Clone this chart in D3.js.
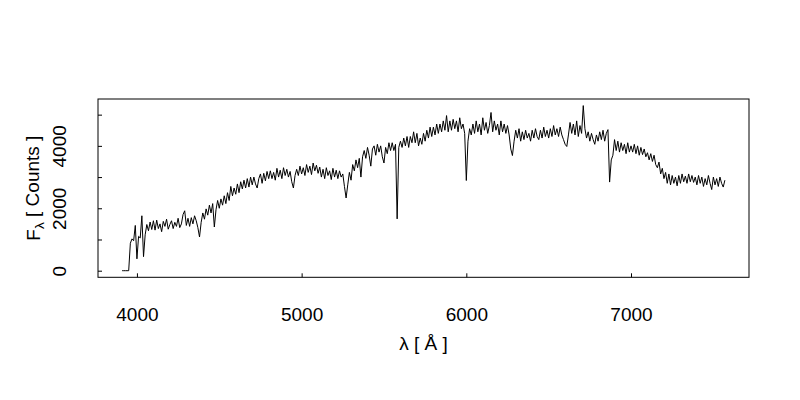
<!DOCTYPE html>
<html>
<head>
<meta charset="utf-8">
<script src="https://cdn.jsdelivr.net/npm/d3@7"></script>
<style>
  html, body { margin: 0; padding: 0; background: #ffffff; }
  svg { display: block; font-family: "Liberation Sans", Arial, Helvetica, sans-serif; }
</style>
</head>
<body>
<svg id="chart" width="800" height="400"></svg>
<script>
// ---------------- data ----------------
const wavelength = [
  3910,3920,3930,3940,3950,3960,3970,3980,3990,4000,
  4010,4020,4030,4040,4050,4060,4070,4080,4090,4100,
  4110,4120,4130,4140,4150,4160,4170,4180,4190,4200,
  4210,4220,4230,4240,4250,4260,4270,4280,4290,4300,
  4310,4320,4330,4340,4350,4360,4370,4380,4390,4400,
  4410,4420,4430,4440,4450,4460,4470,4480,4490,4500,
  4510,4520,4530,4540,4550,4560,4570,4580,4590,4600,
  4610,4620,4630,4640,4650,4660,4670,4680,4690,4700,
  4710,4720,4730,4740,4750,4760,4770,4780,4790,4800,
  4810,4820,4830,4840,4850,4860,4870,4880,4890,4900,
  4910,4920,4930,4940,4950,4960,4970,4980,4990,5000,
  5010,5020,5030,5040,5050,5060,5070,5080,5090,5100,
  5110,5120,5130,5140,5150,5160,5170,5180,5190,5200,
  5210,5220,5230,5240,5250,5260,5270,5280,5290,5300,
  5310,5320,5330,5340,5350,5360,5370,5380,5390,5400,
  5410,5420,5430,5440,5450,5460,5470,5480,5490,5500,
  5510,5520,5530,5540,5550,5560,5570,5580,5590,5600,
  5610,5620,5630,5640,5650,5660,5670,5680,5690,5700,
  5710,5720,5730,5740,5750,5760,5770,5780,5790,5800,
  5810,5820,5830,5840,5850,5860,5870,5880,5890,5900,
  5910,5920,5930,5940,5950,5960,5970,5980,5990,6000,
  6010,6020,6030,6040,6050,6060,6070,6080,6090,6100,
  6110,6120,6130,6140,6150,6160,6170,6180,6190,6200,
  6210,6220,6230,6240,6250,6260,6270,6280,6290,6300,
  6310,6320,6330,6340,6350,6360,6370,6380,6390,6400,
  6410,6420,6430,6440,6450,6460,6470,6480,6490,6500,
  6510,6520,6530,6540,6550,6560,6570,6580,6590,6600,
  6610,6620,6630,6640,6650,6660,6670,6680,6690,6700,
  6710,6720,6730,6740,6750,6760,6770,6780,6790,6800,
  6810,6820,6830,6840,6850,6860,6870,6880,6890,6900,
  6910,6920,6930,6940,6950,6960,6970,6980,6990,7000,
  7010,7020,7030,7040,7050,7060,7070,7080,7090,7100,
  7110,7120,7130,7140,7150,7160,7170,7180,7190,7200,
  7210,7220,7230,7240,7250,7260,7270,7280,7290,7300,
  7310,7320,7330,7340,7350,7360,7370,7380,7390,7400,
  7410,7420,7430,7440,7450,7460,7470,7480,7490,7500,
  7510,7520,7530,7540,7550,7560,7570
];

const flux = [
  0,0,0,0,0,880,1020,960,1450,380,
  1100,1050,1760,450,1150,1480,1280,1560,1320,1600,
  1300,1620,1350,1500,1250,1580,1420,1650,1330,1480,
  1600,1350,1550,1420,1680,1380,1500,1800,1920,1450,
  1680,1420,1700,1500,1760,1600,1380,1080,1550,1850,
  1650,1980,1780,2100,1850,2150,1400,1950,2250,2000,
  2300,2100,2400,2150,2500,2250,2700,2400,2650,2450,
  2780,2500,2850,2620,2900,2650,2950,2680,3000,2750,
  3000,2780,2650,2950,3100,2800,3120,2880,3180,2950,
  3200,2950,3150,2900,3280,3000,3220,2950,3300,3050,
  3250,3000,3180,2850,2650,3050,3250,3050,3350,3100,
  3300,3050,3400,3150,3350,3080,3450,3200,3380,3120,
  3320,3000,3250,2950,3300,3050,3200,2920,3280,3000,
  3220,2950,3200,3000,3100,2700,2330,2750,3150,2900,
  3400,3200,3550,3300,3600,3000,3650,3850,3600,3950,
  3700,3350,3900,4000,3700,4050,3800,4000,3650,3450,
  3950,3750,4100,3850,4100,3850,4050,1660,3950,4150,
  3950,4250,4000,4300,3950,4300,4100,4450,4100,4400,
  4000,4250,4050,4400,4150,4500,4250,4600,4300,4600,
  4350,4700,4400,4700,4450,4800,4500,4970,4450,4800,
  4500,4850,4550,4800,4450,4900,4550,4700,4400,2890,
  4150,4550,4350,4700,4400,4800,4450,4700,4350,4900,
  4500,4750,4400,4650,5070,4450,4800,4500,4700,4350,
  4800,4450,4700,4400,4650,4350,3900,3690,4150,4500,
  4250,4550,4150,4450,4200,4500,4250,4400,4150,4500,
  4250,4550,4300,4200,4500,4250,4600,4300,4500,4250,
  4550,4300,4650,4350,4550,4300,4600,4350,4200,4050,
  3980,4350,4750,4400,4700,4350,4800,4300,4650,4400,
  5290,4550,4250,4450,4150,4400,4200,4050,4350,4150,
  4450,4200,4500,4150,4400,4520,2840,3550,3700,4200,
  3850,4150,3800,4100,3850,4050,3750,4100,3800,4000,
  3800,4050,3750,4000,3700,3950,3720,3900,3650,3780,
  3550,3750,3500,3700,3400,3300,3480,3100,3280,2950,
  3150,2800,3100,2750,3050,2800,3000,2720,3050,2800,
  3100,2850,3030,2800,3100,2850,3050,2830,3000,2750,
  3050,2800,3000,2700,2950,2750,3050,2800,2600,3000,
  2750,2950,2700,3000,2800,2680,2900
];

const xTicks = [4000, 5000, 6000, 7000];
const xTickLabels = ["4000", "5000", "6000", "7000"];
const yTicks = [0, 1000, 2000, 3000, 4000, 5000];
const yTickLabels = ["0", "", "2000", "", "4000", ""];

const xTitle = "λ [ Å ]";
const yTitleMain = "F";
const yTitleSub = "λ";
const yTitleRest = " [ Counts ]";

// ---------------- layout ----------------
const svg = d3.select("#chart");
const plot = { left: 98, right: 749, top: 99, bottom: 277.3 };
const fontSize = 19;

// R-style 4% axis expansion
const xMin = d3.min(wavelength), xMax = d3.max(wavelength);
const yMin = d3.min(flux), yMax = d3.max(flux);
const xPad = 0.04 * (xMax - xMin), yPad = 0.04 * (yMax - yMin);

const x = d3.scaleLinear().domain([xMin - xPad, xMax + xPad]).range([plot.left, plot.right]);
const y = d3.scaleLinear().domain([yMin - yPad, yMax + yPad]).range([plot.bottom, plot.top]);

const pts = wavelength.map((w, i) => [w, flux[i]]);

// spectrum line
svg.append("path")
  .datum(pts)
  .attr("fill", "none")
  .attr("stroke", "#000")
  .attr("stroke-width", 1)
  .attr("stroke-linejoin", "round")
  .attr("d", d3.line().x(d => x(d[0])).y(d => y(d[1])));

// x axis (inward ticks)
const xAxis = d3.axisBottom(x)
  .tickValues(xTicks)
  .tickFormat((d, i) => xTickLabels[i])
  .tickSizeInner(-4)
  .tickSizeOuter(0)
  .tickPadding(30);
const gx = svg.append("g").attr("transform", `translate(0,${plot.bottom})`).call(xAxis);
gx.select(".domain").remove();
gx.selectAll("line").attr("stroke", "#000");
gx.selectAll("text")
  .attr("fill", "#000")
  .attr("font-size", fontSize)
  .attr("font-family", "Liberation Sans, Arial, sans-serif");

// y axis (inward ticks, rotated labels)
const yAxis = d3.axisLeft(y)
  .tickValues(yTicks)
  .tickFormat((d, i) => yTickLabels[i])
  .tickSizeInner(-4)
  .tickSizeOuter(0);
const gy = svg.append("g").attr("transform", `translate(${plot.left},0)`).call(yAxis);
gy.select(".domain").remove();
gy.selectAll("line").attr("stroke", "#000");
gy.selectAll("text")
  .attr("fill", "#000")
  .attr("font-size", fontSize)
  .attr("font-family", "Liberation Sans, Arial, sans-serif")
  .attr("transform", "rotate(-90)")
  .attr("text-anchor", "middle")
  .attr("x", 0)
  .attr("y", -32)
  .attr("dy", 0);

// box
svg.append("rect")
  .attr("x", plot.left)
  .attr("y", plot.top)
  .attr("width", plot.right - plot.left)
  .attr("height", plot.bottom - plot.top)
  .attr("fill", "none")
  .attr("stroke", "#000")
  .attr("stroke-width", 1);

// x title
svg.append("text")
  .attr("x", (plot.left + plot.right) / 2)
  .attr("y", 349.5)
  .attr("text-anchor", "middle")
  .attr("font-size", fontSize)
  .attr("fill", "#000")
  .text(xTitle);

// y title with subscript
const yt = svg.append("text")
  .attr("transform", `translate(39.5,${(plot.top + plot.bottom) / 2}) rotate(-90)`)
  .attr("text-anchor", "middle")
  .attr("font-size", fontSize)
  .attr("fill", "#000");
yt.append("tspan").text(yTitleMain);
yt.append("tspan").attr("font-size", fontSize * 0.72).attr("dy", "0.3em").text(yTitleSub);
yt.append("tspan").attr("dy", "-0.22em").text(yTitleRest);
</script>
</body>
</html>
